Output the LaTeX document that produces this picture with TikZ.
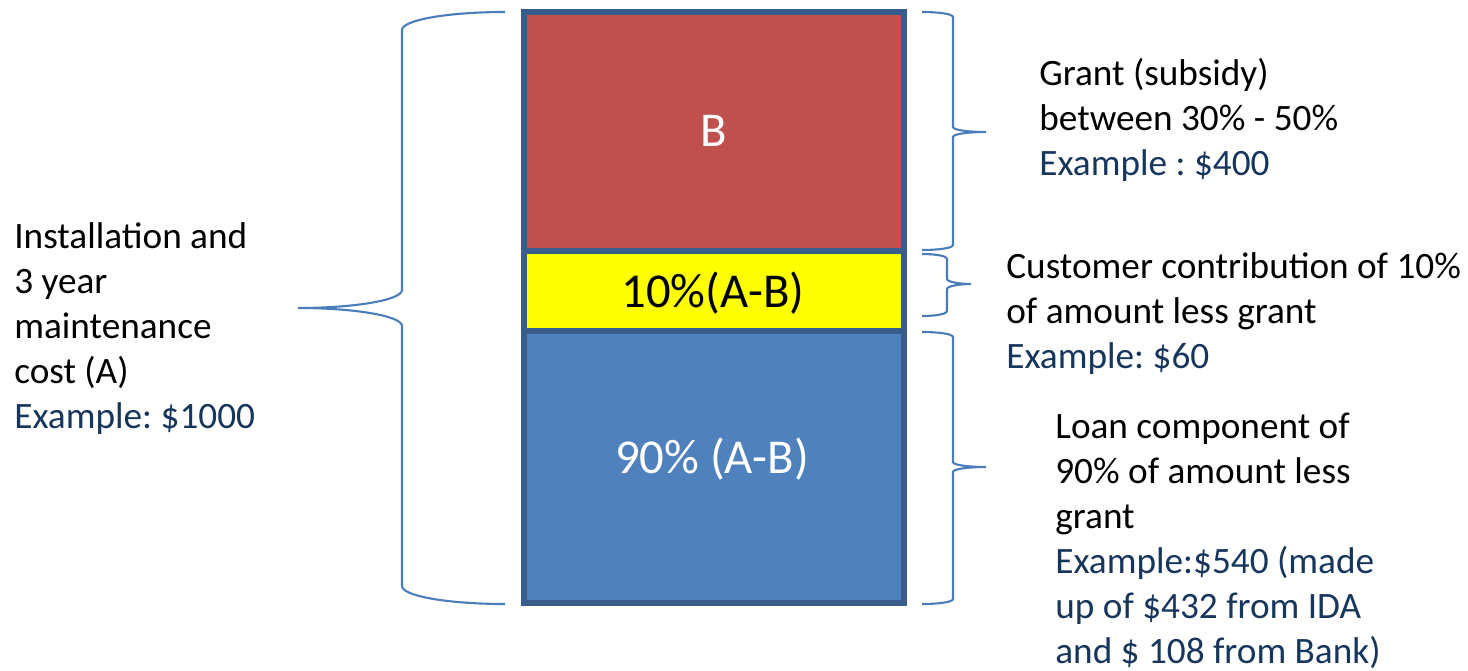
\documentclass[tikz,border=0pt]{standalone}
\usepackage{fontspec}
\setmainfont{Carlito}
\frenchspacing
\usetikzlibrary{positioning}

\definecolor{segred}{HTML}{C0504D}
\definecolor{segyellow}{HTML}{FFFF00}
\definecolor{segblue}{HTML}{4F81BD}
\definecolor{segborder}{HTML}{385D8A}
\definecolor{bracecol}{HTML}{4A7EBB}
\definecolor{examplecol}{HTML}{17365D}

\tikzset{
  segment/.style={draw=segborder, line width=3pt},
  brace line/.style={draw=bracecol, line width=1.2pt},
  % anchored at the baseline of the last line
  side label/.style={anchor=base west, align=left, inner sep=0pt,
    font=\fontsize{21.2}{25.6}\selectfont},
  seg label/.style={anchor=base, inner sep=0pt,
    font=\fontsize{27.7}{32}\selectfont},
}

\begin{document}
\begin{tikzpicture}[x=0.02cm, y=-0.02cm]
\useasboundingbox (0,0) rectangle (1468,670);

% Stacked cost bar
\filldraw[segment, fill=segred] (524,12) rectangle (904,251);
\filldraw[segment, fill=segyellow] (524,251) rectangle (904,331);
\filldraw[segment, fill=segblue] (524,331) rectangle (904,603);

\node[seg label, white] (segB) at (714,146) {B};
\node[seg label] (segCust) at (713,307) {10\%(A-B)};
\node[seg label, white] (segLoan) at (712,473) {90\% (A-B)};

% Left brace (whole cost)
\draw[brace line] (505,12) .. controls (448,12) and (402,20) .. (402,30)
  -- (402,290) .. controls (402,300) and (355,308) .. (298,308)
  .. controls (355,308) and (402,316) .. (402,326)
  -- (402,586) .. controls (402,596) and (448,604) .. (505,604);

% Right braces
\draw[brace line] (922,12) .. controls (939,12) and (953,14) .. (953,17)
  -- (953,127) .. controls (953,130) and (968,132) .. (986,132)
  .. controls (968,132) and (953,134) .. (953,137)
  -- (953,245) .. controls (953,248) and (939,250) .. (922,250);
\draw[brace line] (922,254) .. controls (936,254) and (947,256) .. (947,259)
  -- (947,279) .. controls (947,282) and (960,284) .. (971,284)
  .. controls (960,284) and (947,286) .. (947,289)
  -- (947,311) .. controls (947,314) and (936,316) .. (922,316);
\draw[brace line] (922,332) .. controls (939,332) and (953,334) .. (953,337)
  -- (953,462) .. controls (953,465) and (968,467) .. (986,467)
  .. controls (968,467) and (953,469) .. (953,472)
  -- (953,599) .. controls (953,602) and (939,604) .. (922,604);

% Labels
\node[side label] (costLbl) at (14,428) {Installation and\\3 year\\maintenance\\cost (A)\\
  \textcolor{examplecol}{Example: \$1000}};
\node[side label] (grantLbl) at (1039,175) {Grant (subsidy)\\between 30\% - 50\%\\
  \textcolor{examplecol}{Example : \$400}};
\node[side label] (custLbl) at (1006,368) {Customer contribution of 10\%\\of amount less grant\\
  \textcolor{examplecol}{Example: \$60}};
\node[side label] (loanLbl) at (1055,663) {Loan component of\\90\% of amount less\\grant\\
  \textcolor{examplecol}{Example:\$540 (made}\\
  \textcolor{examplecol}{up of \$432 from IDA}\\
  \textcolor{examplecol}{and \$ 108 from Bank)}};
\end{tikzpicture}
\end{document}
